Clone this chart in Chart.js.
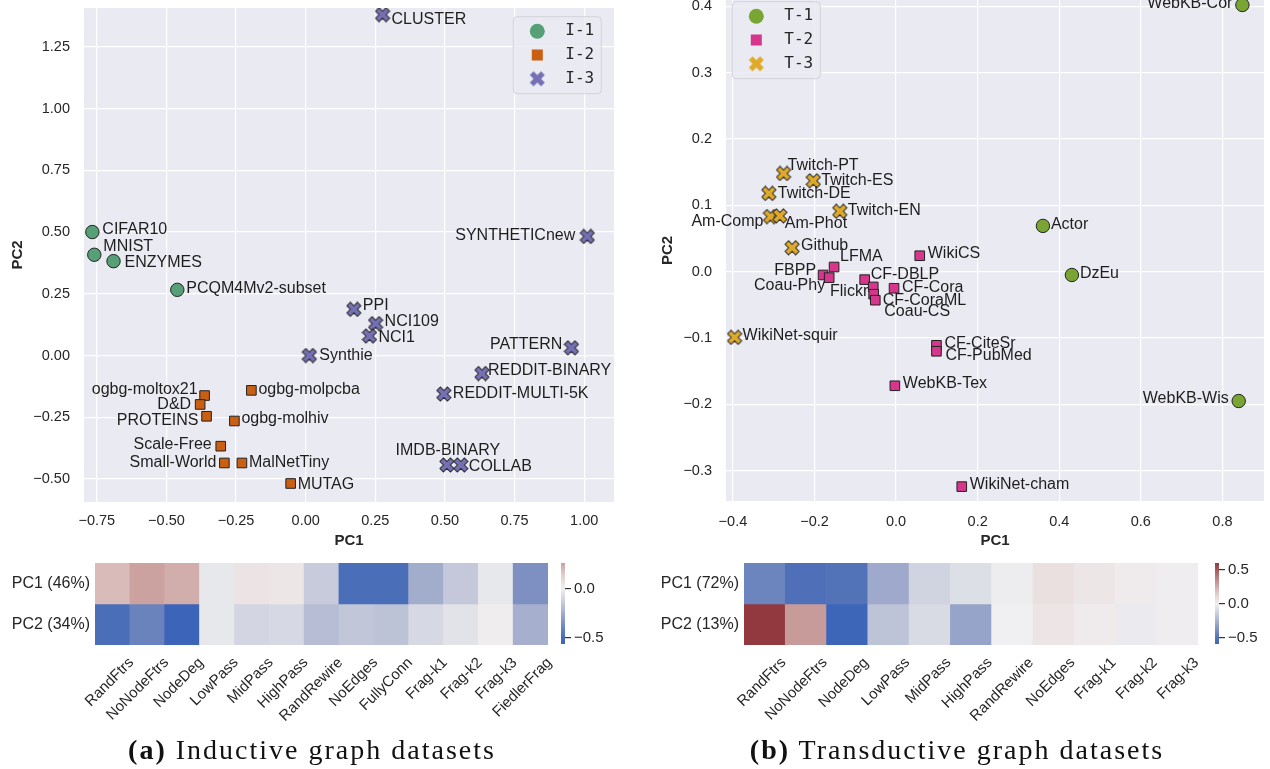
<!DOCTYPE html>
<html>
<head>
<meta charset="utf-8">
<script src="https://cdn.jsdelivr.net/npm/chart.js@4.4.1/dist/chart.umd.min.js"></script>
<style>
  body { margin: 0; background: #fff; width: 1270px; height: 769px; position: relative; overflow: hidden; }
  canvas { position: absolute; }
  .cap { position: absolute; top: 735px; font-family: "Liberation Serif", serif; font-size: 28px; line-height: 30px;
         color: #111; letter-spacing: 2px; white-space: nowrap; transform: translateX(-50%); }
</style>
</head>
<body>
<canvas id="sc1" width="620" height="552" style="left:0;top:0"></canvas>
<canvas id="sc2" width="630" height="552" style="left:640px;top:0"></canvas>
<canvas id="hm1" width="556" height="190" style="left:0;top:545px"></canvas>
<canvas id="cb1" width="70" height="110" style="left:551px;top:545px"></canvas>
<canvas id="hm2" width="566" height="190" style="left:640px;top:545px"></canvas>
<canvas id="cb2" width="70" height="110" style="left:1205px;top:545px"></canvas>
<div class="cap" style="left:312px"><b>(a)</b> Inductive graph datasets</div>
<div class="cap" style="left:957px"><b>(b)</b> Transductive graph datasets</div>

<script>
/* ---------- dados: (a) datasets indutivos ---------- */
const indNames1 = ['CIFAR10', 'MNIST', 'ENZYMES', 'PCQM4Mv2-subset'];
const indX1 = [-0.766, -0.759, -0.690, -0.461];
const indY1 = [0.500, 0.408, 0.382, 0.266];

const indNames2 = ['ogbg-moltox21', 'D&D', 'PROTEINS', 'ogbg-molpcba', 'ogbg-molhiv',
                   'Scale-Free', 'Small-World', 'MalNetTiny', 'MUTAG'];
const indX2 = [-0.363, -0.379, -0.356, -0.195, -0.256, -0.305, -0.292, -0.229, -0.054];
const indY2 = [-0.162, -0.198, -0.246, -0.141, -0.265, -0.367, -0.435, -0.435, -0.518];

const indNames3 = ['CLUSTER', 'SYNTHETICnew', 'PPI', 'NCI109', 'NCI1', 'Synthie', 'PATTERN',
                   'REDDIT-BINARY', 'REDDIT-MULTI-5K', 'IMDB-BINARY', 'COLLAB'];
const indX3 = [0.276, 1.011, 0.173, 0.251, 0.229, 0.013, 0.954, 0.633, 0.496, 0.507, 0.557];
const indY3 = [1.380, 0.482, 0.187, 0.129, 0.079, 0.000, 0.031, -0.073, -0.156, -0.443, -0.443];

const indXTicks = [-0.75, -0.5, -0.25, 0, 0.25, 0.5, 0.75, 1.0];
const indXLabels = ['−0.75', '−0.50', '−0.25', '0.00', '0.25', '0.50', '0.75', '1.00'];
const indYTicks = [-0.5, -0.25, 0, 0.25, 0.5, 0.75, 1.0, 1.25];
const indYLabels = ['−0.50', '−0.25', '0.00', '0.25', '0.50', '0.75', '1.00', '1.25'];

/* ---------- dados: (b) datasets transdutivos ---------- */
const trNames1 = ['WebKB-Cor', 'Actor', 'DzEu', 'WebKB-Wis'];
const trX1 = [0.849, 0.360, 0.431, 0.840];
const trY1 = [0.402, 0.069, -0.005, -0.195];

const trNames2 = ['WikiCS', 'LFMA', 'FBPP', 'Coau-Phy', 'CF-DBLP', 'Flickr', 'CF-Cora', 'CF-CoraML',
                  'Coau-CS', 'CF-CiteSr', 'CF-PubMed', 'WebKB-Tex', 'WikiNet-cham'];
const trX2 = [0.058, -0.152, -0.179, -0.164, -0.077, -0.056, -0.005, -0.055, -0.051, 0.099, 0.099, -0.003, 0.161];
const trY2 = [0.024, 0.007, -0.005, -0.009, -0.012, -0.023, -0.025, -0.034, -0.043, -0.111, -0.120, -0.172, -0.324];

const trNames3 = ['Twitch-PT', 'Twitch-ES', 'Twitch-DE', 'Twitch-EN', 'Am-Comp', 'Am-Phot', 'Github', 'WikiNet-squir'];
const trX3 = [-0.276, -0.203, -0.312, -0.138, -0.308, -0.285, -0.255, -0.396];
const trY3 = [0.148, 0.137, 0.118, 0.091, 0.083, 0.084, 0.036, -0.099];

const trXTicks = [-0.4, -0.2, 0, 0.2, 0.4, 0.6, 0.8];
const trXLabels = ['−0.4', '−0.2', '0.0', '0.2', '0.4', '0.6', '0.8'];
const trYTicks = [-0.3, -0.2, -0.1, 0, 0.1, 0.2, 0.3, 0.4];
const trYLabels = ['−0.3', '−0.2', '−0.1', '0.0', '0.1', '0.2', '0.3', '0.4'];

/* ---------- dados: heatmaps (cargas das componentes) ---------- */
const hmColsA = ['RandFtrs', 'NoNodeFtrs', 'NodeDeg', 'LowPass', 'MidPass', 'HighPass', 'RandRewire',
                 'NoEdges', 'FullyConn', 'Frag-k1', 'Frag-k2', 'Frag-k3', 'FiedlerFrag'];
const hmRowsA = ['PC1 (46%)', 'PC2 (34%)'];
const hmPC1A = [0.19, 0.26, 0.23, -0.03, 0.05, 0.04, -0.14, -0.50, -0.50, -0.25, -0.15, -0.03, -0.35];
const hmPC2A = [-0.50, -0.40, -0.56, -0.03, -0.10, -0.09, -0.19, -0.16, -0.17, -0.09, -0.05, 0.01, -0.24];
const cbTicksA = [-0.5, 0];
const cbLabelsA = ['−0.5', '0.0'];

const hmColsB = ['RandFtrs', 'NoNodeFtrs', 'NodeDeg', 'LowPass', 'MidPass', 'HighPass', 'RandRewire',
                 'NoEdges', 'Frag-k1', 'Frag-k2', 'Frag-k3'];
const hmRowsB = ['PC1 (72%)', 'PC2 (13%)'];
const hmPC1B = [-0.42, -0.52, -0.50, -0.28, -0.12, -0.07, -0.01, 0.07, 0.04, 0.02, 0.01];
const hmPC2B = [0.60, 0.30, -0.59, -0.18, -0.09, -0.30, 0.00, 0.05, 0.02, -0.02, 0.01];
const cbTicksB = [-0.5, 0, 0.5];
const cbLabelsB = ['−0.5', '0.0', '0.5'];

/* ---------- estilos ---------- */
const SANS = '"Liberation Sans", Arial, sans-serif';
const INK = '#262626';
const PANEL = '#eaeaf2';
const EDGE = '#222';

Chart.defaults.font.family = SANS;
Chart.defaults.color = INK;
Chart.defaults.animation = false;
Chart.defaults.events = [];

/* rótulos ao lado de cada ponto: [dx, dy, alinhamento opcional] */
const nudgeA = {
  'CIFAR10': [10, -2], 'MNIST': [9, -8], 'ENZYMES': [11, 1], 'PCQM4Mv2-subset': [9, -1],
  'ogbg-moltox21': [-7, -6], 'D&D': [-9, 0], 'PROTEINS': [-8, 4], 'ogbg-molpcba': [7, -1],
  'ogbg-molhiv': [7, -2], 'Scale-Free': [-9, -2], 'Small-World': [-8, 0], 'MalNetTiny': [7, 0],
  'MUTAG': [7, 1], 'CLUSTER': [9, 5], 'SYNTHETICnew': [-12, -1], 'PPI': [9, -4], 'NCI109': [9, -2],
  'NCI1': [9, 2], 'Synthie': [10, 0], 'PATTERN': [-9, -3], 'REDDIT-BINARY': [6, -3],
  'REDDIT-MULTI-5K': [9, 0], 'IMDB-BINARY': [1, -14, 'center'], 'COLLAB': [8, 2]
};
const nudgeB = {
  'WebKB-Cor': [-10, -1], 'Actor': [8, -1], 'DzEu': [8, -1], 'WebKB-Wis': [-10, -2],
  'WikiCS': [8, -2], 'LFMA': [6, -10], 'FBPP': [-7, -4], 'Coau-Phy': [-4, 8], 'CF-DBLP': [6, -5],
  'Flickr': [-5, 5], 'CF-Cora': [8, -1], 'CF-CoraML': [9, 6], 'Coau-CS': [9, 11],
  'CF-CiteSr': [8, -2], 'CF-PubMed': [9, 4], 'WebKB-Tex': [8, -2], 'WikiNet-cham': [8, -2],
  'Twitch-PT': [4, -8], 'Twitch-ES': [8, 0], 'Twitch-DE': [9, 0], 'Twitch-EN': [8, -1],
  'Am-Comp': [-7, 5], 'Am-Phot': [5, 8], 'Github': [9, -2], 'WikiNet-squir': [8, -2]
};

/* ---------- marcador "X" preenchido (como o 'X' do matplotlib) ---------- */
function xMarker(color, half, edge) {
  const s = Math.ceil(half * 2 + 2);
  const c = document.createElement('canvas');
  c.width = c.height = s;
  const g = c.getContext('2d');
  const L = half * Math.SQRT2 * 0.75, t = L / 3;
  const pts = [[t, L], [t, t], [L, t], [L, -t], [t, -t], [t, -L], [-t, -L], [-t, -t], [-L, -t], [-L, t], [-t, t], [-t, L]];
  g.translate(s / 2, s / 2);
  g.rotate(Math.PI / 4);
  g.beginPath();
  pts.forEach(([x, y], i) => i ? g.lineTo(x, y) : g.moveTo(x, y));
  g.closePath();
  g.fillStyle = color;
  g.fill();
  if (edge) { g.lineWidth = 1; g.strokeStyle = edge; g.stroke(); }
  return c;
}

/* ---------- colormap tipo 'vlag' ---------- */
const VLAG = [
  [0.0, 60, 100, 184], [0.1, 88, 118, 185], [0.2, 130, 148, 194], [0.3, 172, 180, 207],
  [0.4, 208, 211, 224], [0.5, 240, 239, 241], [0.6, 232, 213, 212], [0.7, 210, 175, 174],
  [0.8, 190, 135, 135], [0.9, 167, 95, 98], [1.0, 146, 57, 63]
];
function vlag(t) {
  t = Math.max(0, Math.min(1, t));
  for (let i = 1; i < VLAG.length; i++) {
    if (t <= VLAG[i][0]) {
      const a = VLAG[i - 1], b = VLAG[i];
      const f = (t - a[0]) / (b[0] - a[0]);
      const c = [1, 2, 3].map(k => Math.round(a[k] + f * (b[k] - a[k])));
      return `rgb(${c[0]},${c[1]},${c[2]})`;
    }
  }
  return 'rgb(146,57,63)';
}
const cellColor = (v, vr) => vlag((v + vr) / (2 * vr));

/* ---------- plugins ---------- */
const panelBg = {
  id: 'panelBg',
  beforeDraw(chart) {
    const { ctx, chartArea: a } = chart;
    ctx.save();
    ctx.fillStyle = PANEL;
    ctx.fillRect(a.left, a.top, a.right - a.left, a.bottom - a.top);
    ctx.restore();
  }
};

const pointLabels = {
  id: 'pointLabels',
  afterDatasetsDraw(chart, args, opts) {
    const ctx = chart.ctx;
    ctx.save();
    ctx.font = `16px ${SANS}`;
    ctx.fillStyle = '#1e1e1e';
    ctx.textBaseline = 'middle';
    chart.data.datasets.forEach((ds, di) => {
      chart.getDatasetMeta(di).data.forEach((pt, i) => {
        const name = ds.data[i].name;
        const [dx, dy, al] = opts.nudge[name] || [9, -1];
        ctx.textAlign = al || (dx < 0 ? 'right' : 'left');
        ctx.fillText(name, pt.x + dx, pt.y + dy);
      });
    });
    ctx.restore();
  }
};

const boxLegend = {
  id: 'boxLegend',
  afterDraw(chart, args, o) {
    const { ctx, chartArea: a } = chart;
    const w = 88, h = 77, r = 4;
    const x0 = o.corner === 'right' ? a.right - o.dx - w : a.left + o.dx;
    const y0 = a.top + o.dy;
    ctx.save();
    ctx.beginPath();
    ctx.moveTo(x0 + r, y0);
    ctx.arcTo(x0 + w, y0, x0 + w, y0 + h, r);
    ctx.arcTo(x0 + w, y0 + h, x0, y0 + h, r);
    ctx.arcTo(x0, y0 + h, x0, y0, r);
    ctx.arcTo(x0, y0, x0 + w, y0, r);
    ctx.closePath();
    ctx.fillStyle = 'rgba(234,234,242,0.85)';
    ctx.fill();
    ctx.strokeStyle = '#d2d2da';
    ctx.lineWidth = 1;
    ctx.stroke();
    chart.data.datasets.forEach((ds, i) => {
      const y = y0 + 14.5 + i * 23.8;
      ctx.fillStyle = ds.backgroundColor;
      Chart.helpers.drawPoint(ctx, { pointStyle: o.icons[i], radius: o.radii[i], borderWidth: 0, rotation: 0 }, x0 + 24, y);
      ctx.fillStyle = INK;
      ctx.font = '16px "DejaVu Sans Mono", monospace';
      ctx.textAlign = 'left';
      ctx.textBaseline = 'middle';
      ctx.fillText(ds.label, x0 + 52, y);
    });
    ctx.restore();
  }
};

/* ---------- gráfico de dispersão (PCA) ---------- */
function scatterChart(id, groups, cfg) {
  const datasets = groups.map(g => ({
    label: g.label,
    data: g.names.map((n, i) => ({ x: g.xs[i], y: g.ys[i], name: n })),
    pointStyle: g.style,
    pointRadius: g.radius,
    backgroundColor: g.color,
    borderColor: EDGE,
    borderWidth: 1
  }));
  return new Chart(document.getElementById(id), {
    type: 'scatter',
    data: { datasets },
    options: {
      responsive: false,
      layout: { autoPadding: false, padding: { top: cfg.padTop, right: cfg.padRight, left: 0, bottom: 0 } },
      plugins: {
        legend: { display: false },
        tooltip: { enabled: false },
        pointLabels: { nudge: cfg.nudge },
        boxLegend: { corner: cfg.legCorner, dx: cfg.legDx, dy: cfg.legDy, icons: cfg.legIcons, radii: [7.5, 7.8, 7.5] }
      },
      scales: {
        x: {
          type: 'linear', min: cfg.xMin, max: cfg.xMax,
          afterBuildTicks: s => { s.ticks = cfg.xTicks.map(v => ({ value: v })); },
          afterFit: s => { s.height = cfg.xAxisH; s.paddingLeft = 0; s.paddingRight = 0; },
          grid: { color: '#fff', lineWidth: 1.2, drawTicks: false },
          border: { display: false },
          ticks: { padding: cfg.xTickPad, font: { size: 14.5 }, callback: (v, i) => cfg.xLabels[i] },
          title: { display: true, text: 'PC1', font: { size: 15, weight: 'bold' }, padding: { top: 0, bottom: 2 } }
        },
        y: {
          type: 'linear', min: cfg.yMin, max: cfg.yMax,
          afterBuildTicks: s => { s.ticks = cfg.yTicks.map(v => ({ value: v })); },
          afterFit: s => { s.width = cfg.yAxisW; s.paddingTop = 0; s.paddingBottom = 0; },
          grid: { color: '#fff', lineWidth: 1.2, drawTicks: false },
          border: { display: false },
          ticks: { padding: 14, font: { size: 14.5 }, callback: (v, i) => cfg.yLabels[i] },
          title: { display: true, text: 'PC2', font: { size: 15, weight: 'bold' }, padding: { top: cfg.yTitlePad, bottom: 0 } }
        }
      }
    },
    plugins: [panelBg, pointLabels, boxLegend]
  });
}

/* ---------- heatmap + barra de cores ---------- */
function heatmapChart(id, cols, rows, vals, vr, cfg) {
  const datasets = rows.map((r, ri) => ({
    label: r,
    data: cols.map(() => [ri, ri + 1]),
    backgroundColor: vals[ri].map(v => cellColor(v, vr)),
    borderWidth: 0,
    grouped: false,
    barPercentage: 1,
    categoryPercentage: 1
  }));
  return new Chart(document.getElementById(id), {
    type: 'bar',
    data: { labels: cols, datasets },
    options: {
      responsive: false,
      layout: { autoPadding: false, padding: { top: 18, right: cfg.padRight, left: 0, bottom: 0 } },
      plugins: { legend: { display: false }, tooltip: { enabled: false } },
      scales: {
        x: {
          grid: { display: false, drawTicks: false },
          border: { display: false },
          afterFit: s => { s.height = 90; s.paddingLeft = 0; s.paddingRight = 0; },
          ticks: { autoSkip: false, minRotation: 45, maxRotation: 45, labelOffset: cfg.labelOffset, padding: 9, font: { size: 15 } }
        },
        y: {
          type: 'linear', min: 0, max: 2, reverse: true,
          afterBuildTicks: s => { s.ticks = [{ value: 0.5 }, { value: 1.5 }]; },
          afterFit: s => { s.width = cfg.yAxisW; s.paddingTop = 0; s.paddingBottom = 0; },
          grid: { display: false, drawTicks: false },
          border: { display: false },
          ticks: { padding: 5, font: { size: 16 }, callback: (v, i) => rows[i] }
        }
      }
    }
  });
}

function colorbarChart(id, vmin, vmax, vr, ticks, labels) {
  return new Chart(document.getElementById(id), {
    type: 'bar',
    data: {
      labels: ['cb'],
      datasets: [{
        data: [[vmin, vmax]],
        borderWidth: 0,
        barPercentage: 1,
        categoryPercentage: 1,
        backgroundColor: ctx => {
          const a = ctx.chart.chartArea;
          if (!a) return null;
          const g = ctx.chart.ctx.createLinearGradient(0, a.bottom, 0, a.top);
          for (let i = 0; i <= 24; i++) {
            const t = i / 24;
            g.addColorStop(t, cellColor(vmin + t * (vmax - vmin), vr));
          }
          return g;
        }
      }]
    },
    options: {
      responsive: false,
      layout: { autoPadding: false, padding: { top: 18, left: 10, bottom: 11, right: 0 } },
      plugins: { legend: { display: false }, tooltip: { enabled: false } },
      scales: {
        x: { display: false },
        y: {
          position: 'right', min: vmin, max: vmax,
          afterBuildTicks: s => { s.ticks = ticks.map(v => ({ value: v })); },
          afterFit: s => { s.width = 56; s.paddingTop = 0; s.paddingBottom = 0; },
          grid: { drawOnChartArea: false, drawTicks: true, tickLength: 6, color: '#333', lineWidth: 1.2 },
          border: { display: false },
          ticks: { padding: 3, font: { size: 15 }, callback: (v, i) => labels[i] }
        }
      }
    }
  });
}

/* ---------- montagem ---------- */
scatterChart('sc1', [
  { label: 'I-1', names: indNames1, xs: indX1, ys: indY1, style: 'circle', radius: 6.7, color: '#57a077' },
  { label: 'I-2', names: indNames2, xs: indX2, ys: indY2, style: 'rect', radius: 6.8, color: '#c95f12' },
  { label: 'I-3', names: indNames3, xs: indX3, ys: indY3, style: xMarker('#7570b3', 7, EDGE), radius: 7, color: '#7570b3' }
], {
  xMin: -0.796, xMax: 1.107, yMin: -0.593, yMax: 1.407,
  xTicks: indXTicks, xLabels: indXLabels, yTicks: indYTicks, yLabels: indYLabels,
  padTop: 8, padRight: 6, xAxisH: 50, yAxisW: 84, yTitlePad: 9, xTickPad: 10, nudge: nudgeA,
  legCorner: 'right', legDx: 12.7, legDy: 8.7,
  legIcons: ['circle', 'rect', xMarker('#7570b3', 7.5, null)]
});

scatterChart('sc2', [
  { label: 'T-1', names: trNames1, xs: trX1, ys: trY1, style: 'circle', radius: 6.7, color: '#79a632' },
  { label: 'T-2', names: trNames2, xs: trX2, ys: trY2, style: 'rect', radius: 6.8, color: '#d6378c' },
  { label: 'T-3', names: trNames3, xs: trX3, ys: trY3, style: xMarker('#dfaa2a', 7, EDGE), radius: 7, color: '#dfaa2a' }
], {
  xMin: -0.417, xMax: 0.902, yMin: -0.3457, yMax: 0.4095,
  xTicks: trXTicks, xLabels: trXLabels, yTicks: trYTicks, yLabels: trYLabels,
  padTop: 0, padRight: 6, xAxisH: 51, yAxisW: 86, yTitlePad: 19, xTickPad: 12, nudge: nudgeB,
  legCorner: 'left', legDx: 6.3, legDy: 1.7,
  legIcons: ['circle', 'rect', xMarker('#dfaa2a', 7.5, null)]
});

const allA = hmPC1A.concat(hmPC2A);
const minA = Math.min(...allA), maxA = Math.max(...allA);
const vrA = Math.max(Math.abs(minA), Math.abs(maxA));
heatmapChart('hm1', hmColsA, hmRowsA, [hmPC1A, hmPC2A], vrA, { padRight: 8, yAxisW: 95, labelOffset: 19 });
colorbarChart('cb1', minA, maxA, vrA, cbTicksA, cbLabelsA);

const allB = hmPC1B.concat(hmPC2B);
const minB = Math.min(...allB), maxB = Math.max(...allB);
const vrB = Math.max(Math.abs(minB), Math.abs(maxB));
heatmapChart('hm2', hmColsB, hmRowsB, [hmPC1B, hmPC2B], vrB, { padRight: 8, yAxisW: 104, labelOffset: 19 });
colorbarChart('cb2', minB, maxB, vrB, cbTicksB, cbLabelsB);
</script>
</body>
</html>
